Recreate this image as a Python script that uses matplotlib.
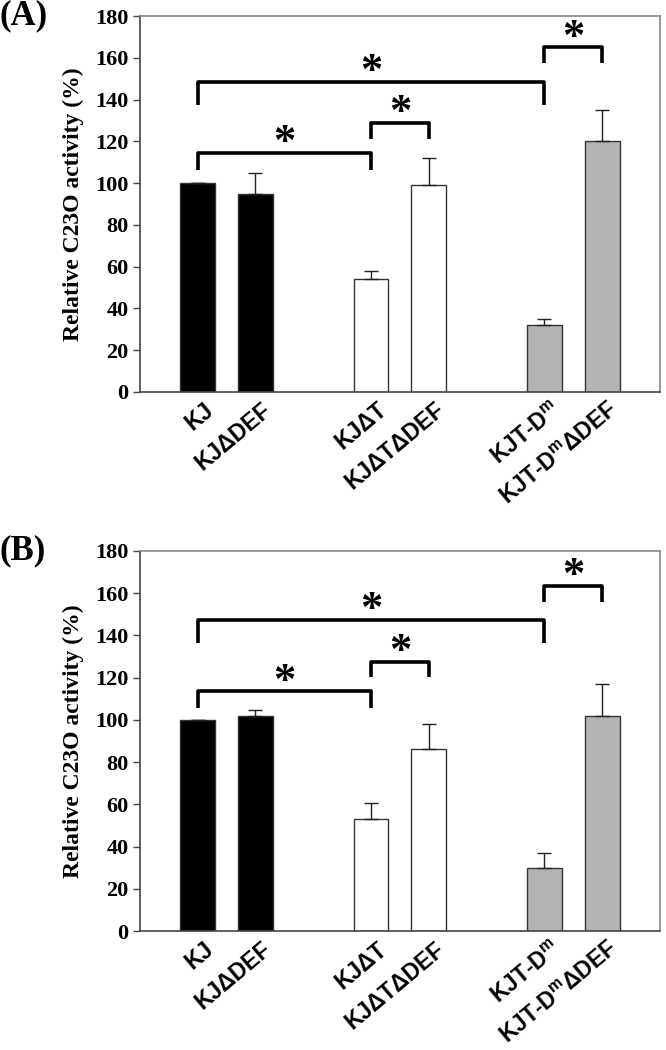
import numpy as np
import matplotlib.pyplot as plt

# data
labels = ["KJ", "KJΔDEF", "KJΔT", "KJΔTΔDEF", "KJT-D$^\\mathregular{m}$", "KJT-D$^\\mathregular{m}$ΔDEF"]
positions = [0, 1, 3, 4, 6, 7]
colors = ["black", "black", "white", "white", "#b4b4b4", "#b4b4b4"]

vals_a = [100, 95, 54, 99, 32, 120]
err_a = [0, 10, 4, 13, 3, 15]
vals_b = [100, 102, 53, 86, 30, 102]
err_b = [0, 2.5, 7.5, 12, 7, 15]

# significance brackets: (left, right, line y, leg bottom)
brackets_a = [(0, 6, 148.5, 137.5), (6, 7, 165, 157.5), (0, 3, 114.5, 106.5), (3, 4, 129, 121)]
brackets_b = [(0, 6, 147.5, 136.5), (6, 7, 163.5, 156), (0, 3, 113.5, 105.5), (3, 4, 127.5, 120.5)]

serif = "Liberation Serif"
sans = "Liberation Sans"


def draw_panel(ax, vals, err, brackets, tag):
    ax.bar(positions, vals, width=0.6, color=colors, edgecolor="#333333", linewidth=1.0, zorder=2)
    ax.errorbar(positions, vals, yerr=[np.zeros(len(err)), err], fmt="none",
                ecolor="#222222", elinewidth=1.0, capsize=5, capthick=1.0, zorder=3)
    for x0, x1, yt, yb in brackets:
        ax.plot([x0, x0, x1, x1], [yb, yt, yt, yb], color="black", lw=2.6,
                solid_joinstyle="round", solid_capstyle="butt", zorder=4)
        ax.text((x0 + x1) / 2, yt - 5, "*", ha="center", va="bottom",
                fontsize=32, fontweight="bold", family=serif, zorder=5)
    ax.set_xlim(-1, 8)
    ax.set_ylim(0, 180)
    ax.set_yticks(np.arange(0, 181, 20))
    ax.tick_params(axis="y", direction="out", length=5, width=1.0, color="#444444", pad=3)
    for t in ax.get_yticklabels():
        t.set_family(serif)
        t.set_fontweight("bold")
        t.set_fontsize(16)
    ax.set_xticks([])
    for x, lab in zip(positions, labels):
        ax.text(x + 0.1, -3, lab, rotation=40, rotation_mode="anchor",
                ha="right", va="top", fontsize=16.5, fontweight="bold",
                family=sans, transform=ax.transData, clip_on=False)
    ax.spines["left"].set_color("#444444")
    ax.spines["bottom"].set_color("#444444")
    ax.spines["top"].set_color("#888888")
    ax.spines["right"].set_color("#888888")
    for s in ax.spines.values():
        s.set_linewidth(1.2)
    ax.set_ylabel("Relative C23O activity (%)", family=serif, fontweight="bold",
                  fontsize=17, labelpad=8)
    ax.text(-0.27, 1.0, tag, transform=ax.transAxes, family=serif,
            fontweight="bold", fontsize=25, ha="left", va="center")


fig = plt.figure(figsize=(6.66, 10.5), dpi=100)
ax_a = fig.add_axes([0.210, 0.6267, 0.781, 0.358])
ax_b = fig.add_axes([0.210, 0.1133, 0.781, 0.362])

draw_panel(ax_a, vals_a, err_a, brackets_a, "(A)")
draw_panel(ax_b, vals_b, err_b, brackets_b, "(B)")

fig.savefig("out.png", dpi=100)
